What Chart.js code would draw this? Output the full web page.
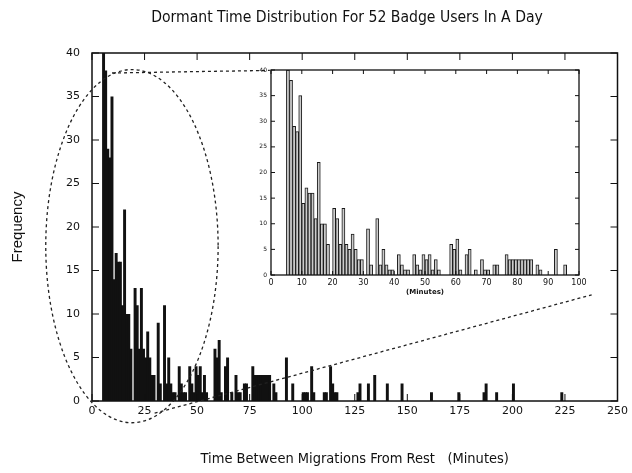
<!DOCTYPE html>
<html>
<head>
<meta charset="utf-8">
<script src="https://cdn.jsdelivr.net/npm/chart.js@4.4.0/dist/chart.umd.min.js"></script>
<style>
  body { margin: 0; background: #fff; }
  #wrap { position: relative; width: 632px; height: 473px; }
  #main { position: absolute; left: 0; top: 0; }
  #inset { position: absolute; left: 250px; top: 60px; }
  #title {
    position: absolute; left: 147px; top: 7px; width: 400px;
    text-align: center; color: #111; white-space: nowrap;
    font: 15.6px/20px 'Liberation Sans Narrow', 'DejaVu Sans Condensed', 'Liberation Sans', Arial, sans-serif;
  }
</style>
</head>
<body>
<div id="wrap">
  <canvas id="main" width="632" height="473"></canvas>
  <canvas id="inset" width="345" height="240"></canvas>
  <div id="title">Dormant Time Distribution For 52 Badge Users In A Day</div>
</div>
<script>
// histogram bins, 1 minute wide (start minute of bin)
const minutes = [5, 6, 7, 8, 9, 10, 11, 12, 13, 14, 15, 16, 17, 18, 20, 21, 22, 23, 24, 25,
  26, 27, 28, 29, 31, 32, 34, 35, 36, 37, 38, 39, 41, 42, 43, 44, 46, 47, 48, 49,
  50, 51, 52, 53, 54, 58, 59, 60, 61, 63, 64, 66, 68, 69, 70, 72, 73, 76, 77, 78,
  79, 80, 81, 82, 83, 84, 86, 87, 92, 95];
const counts = [40, 38, 29, 28, 35, 14, 17, 16, 16, 11, 22, 10, 10, 6, 13, 11, 6, 13, 6, 5,
  8, 5, 3, 3, 9, 2, 11, 2, 5, 2, 1, 1, 4, 2, 1, 1, 4, 2, 1, 4,
  3, 4, 1, 3, 1, 6, 5, 7, 1, 4, 5, 1, 3, 1, 1, 2, 2, 4, 3, 3,
  3, 3, 3, 3, 3, 3, 2, 1, 5, 2];

// only in the main chart (beyond the inset's 100 minutes)
const lateMinutes = [100, 101, 102, 104, 105, 110, 111, 113, 114, 115, 116, 126, 127, 131, 134,
  140, 147, 161, 174, 186, 187, 192, 200, 223];
const lateCounts = [1, 1, 1, 4, 1, 1, 1, 4, 2, 1, 1, 1, 2, 2, 3,
  2, 2, 1, 1, 1, 2, 1, 2, 1];

// zoom marks, in main chart units (minutes, frequency)
const ringCenter = [19, 17.8];
const ringRadius = [41, 20.3];
const leadTop = [[9.5, 37.7], [84.6, 38.0]];
const leadBottom = [[29.8, -1.4], [237.7, 12.2]];

const ink = '#111';
const narrow = "'Liberation Sans Narrow', 'DejaVu Sans Condensed', 'Liberation Sans', Arial, sans-serif";

const mainPoints = minutes.concat(lateMinutes).map((m, i) => ({
  x: m + 0.5,
  y: i < minutes.length ? counts[i] : lateCounts[i - minutes.length]
}));
const insetPoints = minutes.map((m, i) => ({ x: m + 0.5, y: counts[i] }));

// box round the plot with inward ticks on all four sides
const framePlugin = {
  id: 'frame',
  beforeDatasetsDraw(chart, args, opts) {
    if (!opts.fill) return;
    const a = chart.chartArea;
    chart.ctx.save();
    chart.ctx.fillStyle = opts.fill;
    chart.ctx.fillRect(a.left, a.top, a.right - a.left, a.bottom - a.top);
    chart.ctx.restore();
  },
  afterDatasetsDraw(chart, args, opts) {
    const { ctx, chartArea: a, scales: { x, y } } = chart;
    const len = opts.tick || 6;
    ctx.save();
    ctx.strokeStyle = ink;
    ctx.lineWidth = 1;
    ctx.beginPath();
    x.ticks.forEach(t => {
      const px = x.getPixelForValue(t.value);
      ctx.moveTo(px, a.bottom); ctx.lineTo(px, a.bottom - len);
      ctx.moveTo(px, a.top); ctx.lineTo(px, a.top + len);
    });
    y.ticks.forEach(t => {
      const py = y.getPixelForValue(t.value);
      ctx.moveTo(a.left, py); ctx.lineTo(a.left + len, py);
      ctx.moveTo(a.right, py); ctx.lineTo(a.right - len, py);
    });
    ctx.stroke();
    ctx.lineWidth = opts.width || 1.5;
    ctx.strokeRect(a.left, a.top, a.right - a.left, a.bottom - a.top);
    ctx.restore();
  }
};

const zoomMarks = {
  id: 'zoomMarks',
  afterDraw(chart) {
    const { ctx, scales: { x, y } } = chart;
    const px = v => x.getPixelForValue(v);
    const py = v => y.getPixelForValue(v);
    ctx.save();
    ctx.strokeStyle = '#222';
    ctx.lineWidth = 1.3;
    ctx.setLineDash([3, 3]);
    ctx.beginPath();
    ctx.ellipse(px(ringCenter[0]), py(ringCenter[1]),
      px(ringCenter[0] + ringRadius[0]) - px(ringCenter[0]),
      py(ringCenter[1] - ringRadius[1]) - py(ringCenter[1]), 0, 0, Math.PI * 2);
    ctx.stroke();
    [leadTop, leadBottom].forEach(l => {
      ctx.beginPath();
      ctx.moveTo(px(l[0][0]), py(l[0][1]));
      ctx.lineTo(px(l[1][0]), py(l[1][1]));
      ctx.stroke();
    });
    ctx.restore();
  }
};

new Chart(document.getElementById('main'), {
  type: 'bar',
  data: {
    datasets: [{
      data: mainPoints,
      backgroundColor: ink,
      borderWidth: 0,
      barPercentage: 1.4,
      categoryPercentage: 1
    }]
  },
  options: {
    responsive: false,
    animation: false,
    layout: { padding: { left: 0, right: 11, top: 53, bottom: 0 } },
    plugins: {
      legend: { display: false },
      tooltip: { enabled: false },
      frame: { tick: 7, width: 1.5 }
    },
    scales: {
      x: {
        type: 'linear',
        min: 0,
        max: 250,
        offset: false,
        grid: { display: false, drawTicks: false },
        border: { display: false },
        ticks: { stepSize: 25, color: ink, padding: 4, maxRotation: 0,
          font: { family: 'DejaVu Sans', size: 11 } },
        title: {
          display: true,
          text: 'Time Between Migrations From Rest   (Minutes)',
          color: ink,
          font: { family: narrow, size: 14.5, lineHeight: 1.2 },
          padding: { top: 0, bottom: 5 }
        },
        afterFit: s => { s.height = 72; }
      },
      y: {
        min: 0,
        max: 40,
        grid: { display: false, drawTicks: false },
        border: { display: false },
        ticks: { stepSize: 5, color: ink, padding: 12,
          font: { family: 'DejaVu Sans', size: 11 } },
        title: {
          display: true,
          text: 'Frequency',
          color: ink,
          font: { family: 'Liberation Sans', size: 15, lineHeight: 1.2 },
          padding: { top: 9, bottom: 0 }
        },
        afterFit: s => { s.width = 92; }
      }
    }
  },
  plugins: [framePlugin, zoomMarks]
});

new Chart(document.getElementById('inset'), {
  type: 'bar',
  data: {
    datasets: [{
      data: insetPoints,
      backgroundColor: '#cccccc',
      borderColor: '#1a1a1a',
      borderWidth: 1,
      barPercentage: 1,
      categoryPercentage: 1
    }]
  },
  options: {
    responsive: false,
    animation: false,
    layout: { padding: { left: 0, right: 16, top: 10, bottom: 0 } },
    plugins: {
      legend: { display: false },
      tooltip: { enabled: false },
      frame: { tick: 4, width: 1.3, fill: '#fff' }
    },
    scales: {
      x: {
        type: 'linear',
        min: 0,
        max: 100,
        offset: false,
        grid: { display: false, drawTicks: false },
        border: { display: false },
        ticks: { stepSize: 10, color: ink, padding: 3, maxRotation: 0,
          font: { family: 'DejaVu Sans', size: 8 } },
        title: {
          display: true,
          text: '(Minutes)',
          color: ink,
          font: { family: 'DejaVu Sans', size: 7, weight: 'bold', lineHeight: 1.2 },
          padding: { top: 0, bottom: 4 }
        },
        afterFit: s => { s.height = 25; }
      },
      y: {
        min: 0,
        max: 40,
        grid: { display: false, drawTicks: false },
        border: { display: false },
        ticks: { stepSize: 5, color: ink, padding: 4,
          font: { family: 'DejaVu Sans', size: 6 } },
        afterFit: s => { s.width = 21; }
      }
    }
  },
  plugins: [framePlugin]
});
</script>
</body>
</html>
